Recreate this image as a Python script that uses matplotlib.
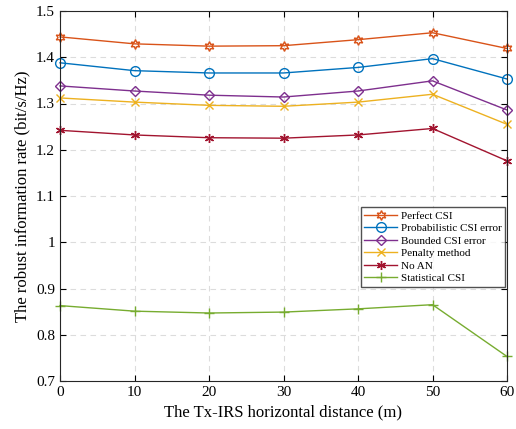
import matplotlib
matplotlib.use('Agg')
from matplotlib import pyplot as plt

# Data
distance = [0, 10, 20, 30, 40, 50, 60]
perfect = [1.444, 1.429, 1.424, 1.425, 1.438, 1.453, 1.419]
prob = [1.388, 1.371, 1.366, 1.366, 1.378, 1.397, 1.353]
bounded = [1.338, 1.327, 1.318, 1.314, 1.327, 1.349, 1.286]
penalty = [1.312, 1.303, 1.296, 1.294, 1.303, 1.320, 1.255]
no_an = [1.242, 1.232, 1.226, 1.225, 1.232, 1.246, 1.176]
statistical = [0.863, 0.851, 0.847, 0.849, 0.856, 0.865, 0.753]

plt.rcParams['font.family'] = ['Liberation Serif', 'DejaVu Serif']

fig = plt.figure(figsize=(5.16, 4.29), dpi=100)
ax = fig.add_axes([60/516, 48/429, 447/516, 370/429])

ax.plot(distance, perfect, color='#D95319', marker=(6, 1, 0), ms=7, mfc='none', lw=1, clip_on=False, label='Perfect CSI')
ax.plot(distance, prob, color='#0072BD', marker='o', ms=7, mfc='none', lw=1, clip_on=False, label='Probabilistic CSI error')
ax.plot(distance, bounded, color='#7E2F8E', marker='D', ms=5.5, mfc='none', lw=1, clip_on=False, label='Bounded CSI error')
ax.plot(distance, penalty, color='#EDB120', marker='x', ms=5.5, lw=1, clip_on=False, label='Penalty method')
ax.plot(distance, no_an, color='#A2142F', marker=(6, 2, 0), ms=6.5, lw=1, clip_on=False, label='No AN')
ax.plot(distance, statistical, color='#77AC30', marker='+', ms=7, lw=1, clip_on=False, label='Statistical CSI')

ax.set_xlim(0, 60)
ax.set_ylim(0.7, 1.5)
ax.set_xticks(range(0, 61, 10))
ax.set_yticks([0.7, 0.8, 0.9, 1.0, 1.1, 1.2, 1.3, 1.4, 1.5])
ax.set_yticklabels(['0.7', '0.8', '0.9', '1', '1.1', '1.2', '1.3', '1.4', '1.5'])
ax.grid(True, ls=(0, (5, 4)), color='#dcdcdc', lw=0.8)
ax.tick_params(direction='in', top=True, right=True, labelsize=11, length=4)
for s in ax.spines.values():
    s.set_linewidth(0.8)
    s.set_color('#262626')

ax.set_xlabel('The Tx-IRS horizontal distance (m)', fontsize=12)
ax.set_ylabel('The robust information rate (bit/s/Hz)', fontsize=12)

ax.legend(loc='lower right', bbox_to_anchor=(0.995, 0.255), fontsize=8, frameon=True,
          fancybox=False, edgecolor='#262626', handlelength=3, borderpad=0.3,
          labelspacing=0.25, handletextpad=0.3, borderaxespad=0)

plt.savefig('out.png', dpi=100)
